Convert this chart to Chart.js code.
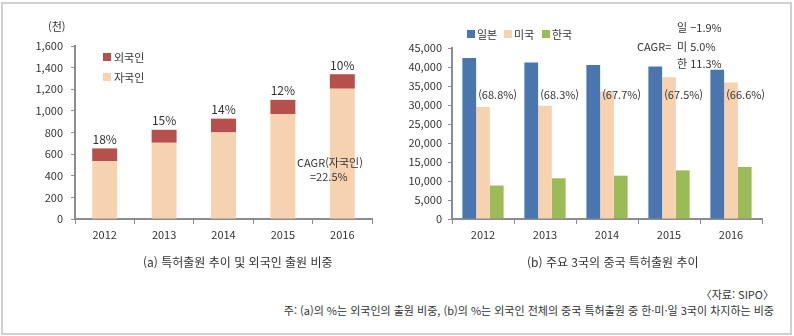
<!DOCTYPE html>
<html lang="ko">
<head>
<meta charset="utf-8">
<script src="https://cdn.jsdelivr.net/npm/chart.js@4/dist/chart.umd.min.js"></script>
<style>
  body { margin: 0; background: #fff; }
  #wrap { position: relative; width: 794px; height: 336px; font-family: "Noto Sans CJK KR", "Noto Sans", sans-serif; color: #333; }
  #frame { position: absolute; left: 1px; top: 2px; width: 787px; height: 329px; border: 2px solid #d0d0d0; }
  canvas { position: absolute; top: 0; }
  .txt { position: absolute; font-size: 11px; white-space: nowrap; line-height: 14px; }
  .sq { position: absolute; width: 8px; height: 8px; }
</style>
</head>
<body>
<div id="wrap">
  <div id="frame"></div>
  <canvas id="patentChart" width="400" height="280" style="left:0"></canvas>
  <canvas id="countryChart" width="394" height="280" style="left:400px"></canvas>

  <!-- left chart texts -->
  <div class="txt" style="left:48px;top:19px">(천)</div>
  <div class="sq" style="left:103px;top:53px;background:#b5504d"></div>
  <div class="txt" style="left:114px;top:50px">외국인</div>
  <div class="sq" style="left:103px;top:73px;background:#f7d2b1"></div>
  <div class="txt" style="left:114px;top:70px">자국인</div>
  <div class="txt" style="left:297px;top:155px">CAGR(자국인)</div>
  <div class="txt" style="left:310px;top:169px">=22.5%</div>
  <div class="txt" style="left:143px;top:255px;font-size:12px">(a) 특허출원 추이 및 외국인 출원 비중</div>

  <!-- right chart texts -->
  <div class="sq" style="left:467px;top:30px;background:#4a76b0"></div>
  <div class="txt" style="left:477px;top:27px">일본</div>
  <div class="sq" style="left:504px;top:30px;background:#f7d2b1"></div>
  <div class="txt" style="left:514px;top:27px">미국</div>
  <div class="sq" style="left:542px;top:30px;background:#9bbb59"></div>
  <div class="txt" style="left:552px;top:27px">한국</div>
  <div class="txt" style="left:677px;top:20px">일 −1.9%</div>
  <div class="txt" style="left:637px;top:39px">CAGR=</div>
  <div class="txt" style="left:677px;top:39px">미 5.0%</div>
  <div class="txt" style="left:677px;top:56px">한 11.3%</div>
  <div class="txt" style="left:527px;top:255px;font-size:12px">(b) 주요 3국의 중국 특허출원 추이</div>

  <!-- notes -->
  <div class="txt" style="right:20px;top:287px">〈자료: SIPO〉</div>
  <div class="txt" style="right:20px;top:303px">주: (a)의 %는 외국인의 출원 비중, (b)의 %는 외국인 전체의 중국 특허출원 중 한·미·일 3국이 차지하는 비중</div>
</div>

<script>
const years = ['2012', '2013', '2014', '2015', '2016'];

// (a) China patent applications, thousands
const domestic = [535, 705, 801, 968, 1205];
const foreign = [118, 120, 127, 134, 134];

// (b) applications to China by country
const japan = [42400, 41200, 40500, 40100, 39300];
const usa = [29500, 29800, 33500, 37300, 35900];
const korea = [8800, 10700, 11400, 12800, 13700];
const shareLabels = ['(68.8%)', '(68.3%)', '(67.7%)', '(67.5%)', '(66.6%)'];

const FONT = '"Noto Sans CJK KR", "Noto Sans", sans-serif';
const AXIS = '#8c8c8c';
Chart.defaults.font.family = FONT;
Chart.defaults.font.size = 11;
Chart.defaults.color = '#333';
Chart.defaults.animation = false;

// foreign share printed above each stacked bar
const sharePlugin = {
  id: 'share',
  afterDatasetsDraw(chart) {
    const ctx = chart.ctx;
    const meta = chart.getDatasetMeta(1);
    ctx.save();
    ctx.font = '12px ' + FONT;
    ctx.fillStyle = '#333';
    ctx.textAlign = 'center';
    ctx.textBaseline = 'middle';
    meta.data.forEach((bar, i) => {
      const pct = Math.round(foreign[i] / (foreign[i] + domestic[i]) * 100);
      ctx.fillText(pct + '%', bar.x, bar.y - 9);
    });
    ctx.restore();
  }
};

// share of the three countries, written over the US bars
const countryLabelPlugin = {
  id: 'countryShare',
  afterDatasetsDraw(chart) {
    const ctx = chart.ctx;
    const meta = chart.getDatasetMeta(1);
    const y = chart.scales.y.getPixelForValue(32700);
    ctx.save();
    ctx.font = '11px ' + FONT;
    ctx.fillStyle = '#333';
    ctx.textAlign = 'left';
    ctx.textBaseline = 'middle';
    meta.data.forEach((bar, i) => {
      ctx.fillText(shareLabels[i], bar.x - bar.width / 2 + 2, y);
    });
    ctx.restore();
  }
};

function xAxis(h) {
  return {
    afterFit(s) { s.height = h; },
    grid: { display: true, offset: true, drawOnChartArea: false, drawTicks: true, tickLength: 5, color: AXIS, lineWidth: 1 },
    border: { color: AXIS, width: 2 },
    ticks: { padding: 4, font: { size: 11 } }
  };
}

new Chart(document.getElementById('patentChart'), {
  type: 'bar',
  data: {
    labels: years,
    datasets: [
      { label: '자국인', data: domestic, backgroundColor: '#f7d2b1' },
      { label: '외국인', data: foreign, backgroundColor: '#b5504d' }
    ]
  },
  options: {
    responsive: false,
    layout: { padding: { top: 46, right: 28, bottom: 31, left: 0 } },
    datasets: { bar: { categoryPercentage: 1, barPercentage: 0.42 } },
    plugins: { legend: { display: false }, tooltip: { enabled: false } },
    scales: {
      x: Object.assign(xAxis(30), { stacked: true }),
      y: {
        stacked: true,
        min: 0, max: 1600,
        afterFit(s) { s.width = 75; },
        grid: { drawOnChartArea: false, drawTicks: true, tickLength: 4, color: AXIS },
        border: { color: AXIS, width: 2 },
        ticks: { stepSize: 200, padding: 8, callback: v => v.toLocaleString('en-US') }
      }
    }
  },
  plugins: [sharePlugin]
});

new Chart(document.getElementById('countryChart'), {
  type: 'bar',
  data: {
    labels: years,
    datasets: [
      { label: '일본', data: japan, backgroundColor: '#4a76b0' },
      { label: '미국', data: usa, backgroundColor: '#f7d2b1' },
      { label: '한국', data: korea, backgroundColor: '#9bbb59' }
    ]
  },
  options: {
    responsive: false,
    layout: { padding: { top: 48, right: 32, bottom: 31, left: 0 } },
    datasets: { bar: { categoryPercentage: 0.665, barPercentage: 1 } },
    plugins: { legend: { display: false }, tooltip: { enabled: false } },
    scales: {
      x: xAxis(30),
      y: {
        min: 0, max: 45000,
        afterFit(s) { s.width = 52; },
        grid: { drawOnChartArea: false, drawTicks: true, tickLength: 4, color: AXIS },
        border: { color: AXIS, width: 2 },
        ticks: { stepSize: 5000, padding: 6, callback: v => v.toLocaleString('en-US') }
      }
    }
  },
  plugins: [countryLabelPlugin]
});
</script>
</body>
</html>
